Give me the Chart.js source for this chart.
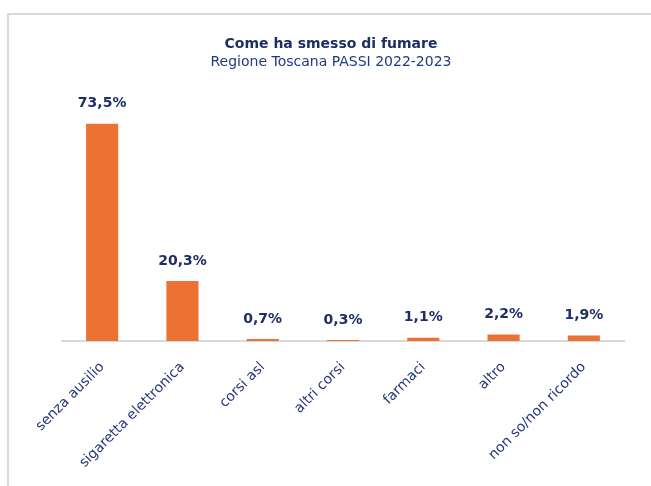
<!DOCTYPE html>
<html>
<head>
<meta charset="UTF-8">
<title>Come ha smesso di fumare</title>
<script src="https://cdn.jsdelivr.net/npm/chart.js"></script>
<style>
  html, body { margin: 0; padding: 0; background: #fff; overflow: hidden; }
  .wrap { position: relative; width: 651px; height: 486px; }
  .frame { position: absolute; left: 7px; top: 13px; width: 700px; height: 520px; border: 2px solid #d9d9d9; box-sizing: border-box; }
  canvas { position: absolute; left: 0; top: 0; }
</style>
</head>
<body>
<div class="wrap">
  <div class="frame"></div>
  <canvas id="chart" width="651" height="486"></canvas>
</div>
<script>
// dati
const categorie = ['senza ausilio', 'sigaretta elettronica', 'corsi asl', 'altri corsi', 'farmaci', 'altro', 'non so/non ricordo'];
const valori = [73.5, 20.3, 0.7, 0.3, 1.1, 2.2, 1.9];
const titolo = 'Come ha smesso di fumare';
const sottotitolo = 'Regione Toscana PASSI 2022-2023';

const FONT = "'DejaVu Sans', sans-serif";
const navy = '#1f2f66';

// etichette sopra le barre
const etichette = {
  id: 'etichette',
  afterDatasetsDraw(chart) {
    const ctx = chart.ctx;
    const meta = chart.getDatasetMeta(0);
    ctx.save();
    ctx.font = 'bold 14px ' + FONT;
    ctx.fillStyle = navy;
    ctx.textAlign = 'center';
    ctx.textBaseline = 'middle';
    meta.data.forEach((bar, i) => {
      ctx.fillText(valori[i].toFixed(1).replace('.', ',') + '%', bar.x, bar.y - 20);
    });
    ctx.restore();
  }
};

new Chart(document.getElementById('chart'), {
  type: 'bar',
  data: {
    labels: categorie,
    datasets: [{
      data: valori,
      backgroundColor: '#ed7232',
      borderWidth: 0,
      categoryPercentage: 1,
      barPercentage: 0.4
    }]
  },
  options: {
    responsive: false,
    animation: false,
    layout: { padding: { left: 38, right: 27, top: 0, bottom: 0 } },
    plugins: {
      legend: { display: false },
      tooltip: { enabled: false },
      title: {
        display: true, text: titolo, color: navy,
        font: { family: FONT, size: 14, weight: 'bold' },
        padding: { top: 36, bottom: 0 }
      },
      subtitle: {
        display: true, text: sottotitolo, color: '#203a80',
        font: { family: FONT, size: 14, weight: 'normal' },
        padding: { top: 1, bottom: 34 }
      }
    },
    scales: {
      x: {
        grid: { display: false },
        border: { display: true, color: '#d9d9d9', width: 2 },
        ticks: {
          color: '#27397a', maxRotation: 45, minRotation: 45, padding: 10,
          font: { family: FONT, size: 14 }
        },
        afterFit(scale) { scale.height = 145; }
      },
      y: {
        min: 0, max: 80,
        grid: { display: false },
        border: { display: false },
        ticks: { display: false },
        afterFit(scale) { scale.width = 24; }
      }
    }
  },
  plugins: [etichette]
});
</script>
</body>
</html>
